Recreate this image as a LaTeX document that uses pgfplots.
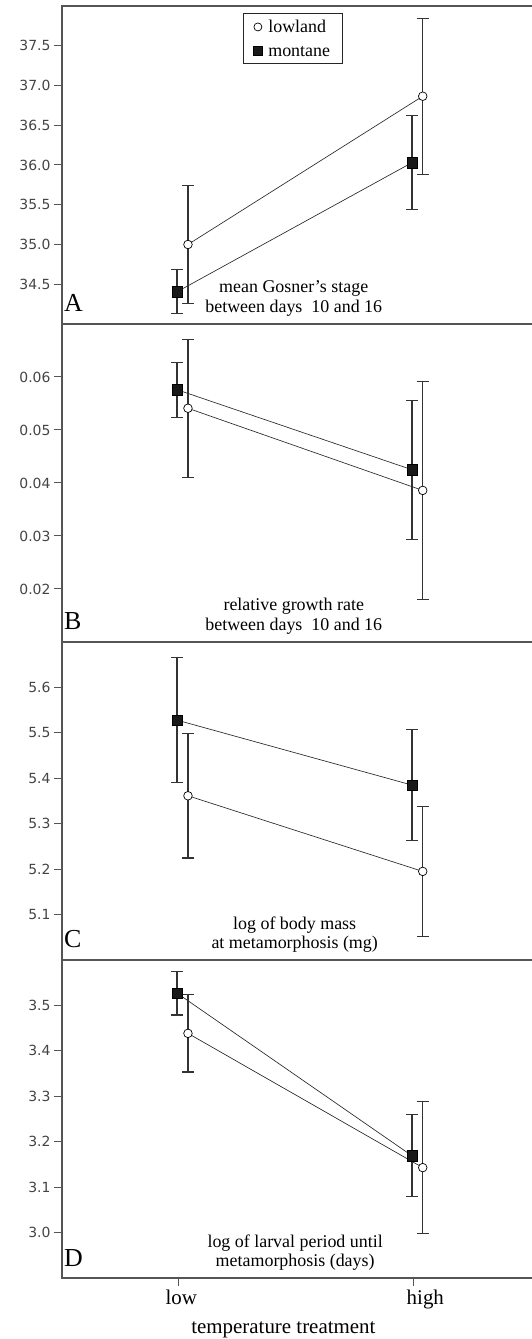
\documentclass[border=0pt]{standalone}
\usepackage{pgfplots}
\pgfplotsset{compat=1.18}
\usepackage{fontspec}
\setmainfont{Liberation Serif}
\newfontfamily\tickfont{DejaVu Sans}
\definecolor{axgray}{HTML}{555555}
\definecolor{ebgray}{HTML}{333333}
\definecolor{tickgray}{HTML}{444444}

\pgfplotsset{
  panel/.style={
    scale only axis, width=472bp, height=318bp,
    xmin=-0.495, xmax=1.5135,
    axis line style={axgray, line width=1.2bp},
    tick align=outside, major tick length=8bp,
    tick style={axgray, line width=1bp},
    ytick pos=left, xtick pos=bottom,
    scaled y ticks=false,
    yticklabel style={font=\tickfont\fontsize{14}{14}\selectfont, text=tickgray},
    /pgf/number format/assume math mode=true,
    /pgf/number format/fixed, /pgf/number format/fixed zerofill,
    clip=false,
    xtick=\empty,
  },
  ebars/.style={
    error bars/y dir=both, error bars/y explicit,
    error bars/error bar style={ebgray, line width=1.1bp},
    error bars/error mark options={rotate=90, mark size=6bp, ebgray, line width=1.1bp}},
  lowl/.style={black!85, line width=0.65bp, mark=*, mark size=4.3bp,
    mark options={fill=white, draw=black, line width=0.7bp, solid}, ebars},
  mont/.style={black!85, line width=0.65bp, mark=square*, mark size=5.2bp,
    mark options={fill=black!90, draw=black, line width=0.5bp, solid}, ebars},
}
\tikzset{
  ptext/.style={anchor=south, align=center, inner sep=0pt, font=\fontsize{18}{20}\selectfont},
  pletter/.style={anchor=base west, inner sep=0pt, font=\fontsize{26}{26}\selectfont},
}

\begin{document}
\begin{tikzpicture}
\path[use as bounding box] (-62bp,-61bp) rectangle (470bp,1278bp);

% ---------- Panel A ----------
\begin{axis}[panel, at={(0,954bp)}, ymin=34, ymax=38,
  ytick={34.5,35,35.5,36,36.5,37,37.5},
  /pgf/number format/precision=1,
  legend style={at={(axis description cs:0.3835,0.977)}, anchor=north west,
    draw=black!85, line width=0.8bp, font=\fontsize{18}{20}\selectfont,
    inner xsep=10bp, inner ysep=1.5bp, nodes={inner ysep=4.5bp}},
  legend image code/.code={\path (-4bp,0) (8bp,0); \draw[#1] plot coordinates {(0bp,0bp)};},
  legend cell align=left]
\addlegendimage{only marks, mark=*, mark size=4bp, mark options={fill=white, draw=black, line width=0.7bp}}
\addlegendentry{\rule[-3bp]{0pt}{16bp}lowland}
\addlegendimage{only marks, mark=square*, mark size=4.5bp, mark options={fill=black!90, draw=black}}
\addlegendentry{\rule[-3bp]{0pt}{16bp}montane}
\addplot[mont, forget plot] coordinates {(-0.0055,34.405) +- (0,0.275) (0.9945,36.03) +- (0,0.59)};
\addplot[lowl, forget plot] coordinates {(0.041,35.0) +- (0,0.74) (1.04,36.865) +- (0,0.98)};
\node[ptext] at (axis description cs:0.491,0) [yshift=7bp] {mean Gosner{\char"0027}s stage\\between days\ \ 10 and 16};
\node[pletter] at (axis description cs:0,0) [xshift=2bp, yshift=12bp] {A};
\end{axis}

% ---------- Panel B ----------
\begin{axis}[panel, at={(0,636bp)}, ymin=0.01, ymax=0.07,
  ytick={0.02,0.03,0.04,0.05,0.06},
  /pgf/number format/precision=2]
\addplot[mont] coordinates {(-0.0055,0.0576) +- (0,0.0052) (0.9945,0.0425) +- (0,0.0131)};
\addplot[lowl] coordinates {(0.041,0.0541) +- (0,0.013) (1.04,0.0386) +- (0,0.0206)};
\node[ptext] at (axis description cs:0.491,0) [yshift=7bp] {relative growth rate\\between days\ \ 10 and 16};
\node[pletter] at (axis description cs:0,0) [xshift=2bp, yshift=12bp] {B};
\end{axis}

% ---------- Panel C ----------
\begin{axis}[panel, at={(0,318bp)}, ymin=5.0, ymax=5.7,
  ytick={5.1,5.2,5.3,5.4,5.5,5.6},
  /pgf/number format/precision=1]
\addplot[mont] coordinates {(-0.0055,5.528) +- (0,0.137) (0.9945,5.385) +- (0,0.122)};
\addplot[lowl] coordinates {(0.041,5.3615) +- (0,0.137) (1.04,5.195) +- (0,0.143)};
\node[ptext] at (axis description cs:0.493,0) [yshift=7bp] {log of body mass\\at metamorphosis (mg)};
\node[pletter] at (axis description cs:0,0) [xshift=2bp, yshift=12bp] {C};
\end{axis}

% ---------- Panel D ----------
\begin{axis}[panel, at={(0,0)}, ymin=2.9, ymax=3.6,
  ytick={3.0,3.1,3.2,3.3,3.4,3.5},
  /pgf/number format/precision=1,
  xtick={0,1}, xticklabels={\hspace*{6bp}low,\hspace*{24bp}high},
  xticklabel style={font=\fontsize{21}{21}\selectfont}]
\addplot[mont] coordinates {(-0.0055,3.527) +- (0,0.048) (0.9945,3.169) +- (0,0.09)};
\addplot[lowl] coordinates {(0.041,3.4385) +- (0,0.085) (1.04,3.143) +- (0,0.145)};
\node[ptext] at (axis description cs:0.494,0) [yshift=7bp] {log of larval period until\\metamorphosis (days)};
\node[pletter] at (axis description cs:0,0) [xshift=2bp, yshift=12bp] {D};
\node[anchor=base, inner sep=0pt, font=\fontsize{21}{21}\selectfont] at (axis description cs:0.469,0) [yshift=-55bp] {temperature treatment};
\end{axis}
\end{tikzpicture}
\end{document}
